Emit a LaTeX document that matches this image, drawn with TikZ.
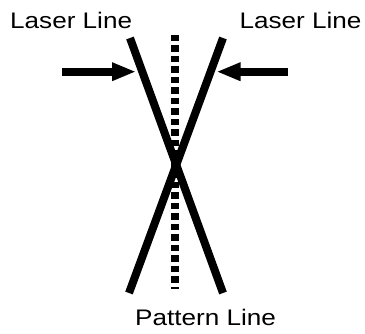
\documentclass[tikz,border=0pt]{standalone}
\usepackage{fontspec}
\setmainfont{Liberation Sans}
\usepackage{tikz}
\usetikzlibrary{arrows.meta, positioning, calc}

\begin{document}
\begin{tikzpicture}[
      x=1pt, y=1pt,
      every node/.style={inner sep=0pt, font=\fontsize{22.5}{26}\selectfont},
      laser/.style={line width=8pt},
      pattern/.style={line width=8.6pt, dash pattern=on 6.5pt off 4pt},
      push/.style={line width=8pt, -{Triangle[length=24pt, width=17pt]}}
    ]
      \useasboundingbox (0,0) rectangle (365,-334);

      % beams crossing the pattern line
      \coordinate (ltop) at (130,-38);
      \coordinate (lbot) at (223,-293);
      \coordinate (rtop) at (223,-38);
      \coordinate (rbot) at (129,-293);
      \coordinate (ptop) at (175,-35);
      \coordinate (pbot) at (175,-289);

      \draw[pattern] (ptop) -- (pbot);
      \draw[laser] (ltop) -- (lbot);
      \draw[laser] (rtop) -- (rbot);

      % arrows
      \coordinate (atailL) at (62,-71.7);
      \coordinate (atipL) at (136,-71.7);
      \coordinate (atailR) at (288,-71.7);
      \coordinate (atipR) at (216.5,-71.7);
      \draw[push] (atailL) -- (atipL);
      \draw[push] (atailR) -- (atipR);

      % labels
      \node[anchor=base west] (laserL) at (10,-29) {\scalebox{1.16}[1]{Laser Line}};
      \node[anchor=base east] (laserR) at (361.7,-29) {\scalebox{1.16}[1]{Laser Line}};
      \node[anchor=base west] (patt) at (135,-326) {\scalebox{1.16}[1]{Pattern Line}};
    \end{tikzpicture}
\end{document}
